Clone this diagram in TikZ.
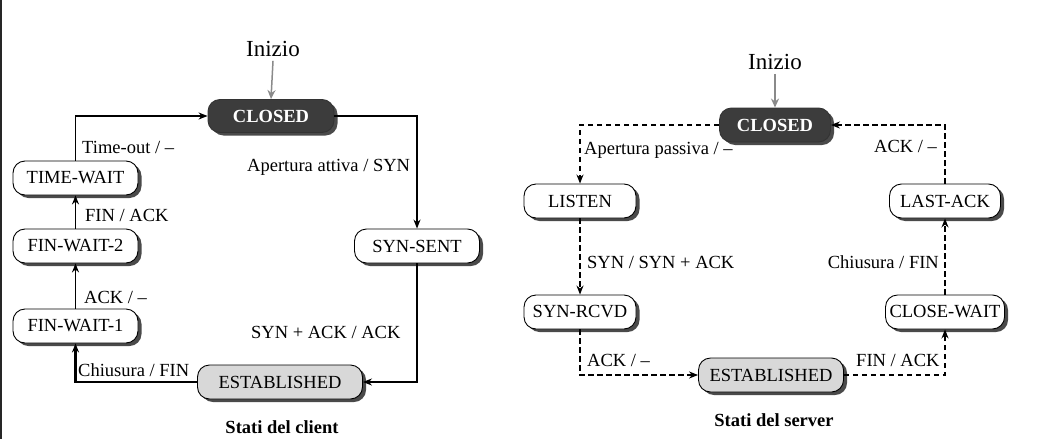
\documentclass[tikz,border=0pt]{standalone}
\usepackage{fontspec}
\setmainfont{Liberation Serif}
\usetikzlibrary{arrows.meta,shadows}

\definecolor{closedfill}{HTML}{3C3C3C}
\definecolor{estfill}{HTML}{D8D8D8}
\definecolor{shadowcol}{HTML}{4A4A4A}
\definecolor{startgray}{HTML}{8A8A8A}

\tikzset{
  txt/.style={font=\fontsize{18.5}{20}\selectfont},
  stbox/.style={txt, draw=black, line width=0.9pt, rounded corners=12pt,
    minimum height=34pt, inner xsep=0pt, inner ysep=0pt, fill=white,
    general shadow={fill=shadowcol, shadow xshift=3.5pt, shadow yshift=-3pt}},
  closedbox/.style={stbox, fill=closedfill, draw=black!80, text=white,
    font=\fontsize{18.5}{20}\selectfont\bfseries},
  estbox/.style={stbox, fill=estfill},
  lbl/.style={txt, inner sep=0pt},
  title/.style={font=\fontsize{18.5}{20}\selectfont\bfseries, inner sep=0pt},
  startlbl/.style={font=\fontsize{23}{25}\selectfont, inner sep=0pt},
  startarrow/.style={draw=startgray, line width=1.5pt,
    -{Stealth[length=9pt,width=8pt]}},
  tr/.style={draw=black, line width=1.2pt, -{Stealth[length=9pt,width=7pt]}},
  trthick/.style={tr, line width=2.6pt},
  trdash/.style={tr, dash pattern=on 5.5pt off 3.5pt}
}

\begin{document}
\begin{tikzpicture}[x=1pt, y=-1pt]
  \useasboundingbox (0,0) rectangle (1056,439);
  \draw[line width=1.6pt, black!85] (0.8,0) -- (0.8,439);

  % ---------- client side ----------
  \node[startlbl] (cstart) at (273,49) {Inizio};
  \node[closedbox, minimum width=126pt, minimum height=33pt] (cclosed) at (271,116) {CLOSED};
  \node[stbox, minimum width=125pt] (ctw)  at (75.5,178) {TIME-WAIT};
  \node[stbox, minimum width=125pt] (cfw2) at (75.5,246) {FIN-WAIT-2};
  \node[stbox, minimum width=125pt] (cfw1) at (75.5,326) {FIN-WAIT-1};
  \node[stbox, minimum width=125pt] (css)  at (417,246) {SYN-SENT};
  \node[estbox, minimum width=165pt] (cest) at (280,382) {ESTABLISHED};

  \draw[startarrow] (cstart.south) ++(0,4) -- (cclosed.north);
  \draw[tr] (ctw.north) |- (cclosed.west);
  \draw[tr] (cclosed.east) -| (css.north);
  \draw[tr] (css.south) |- (cest.east);
  \draw[trthick] (cest.west) -| (cfw1.south);
  \draw[tr] (cfw1.north) -- (cfw2.south);
  \draw[tr] (cfw2.north) -- (ctw.south);

  \node[lbl, anchor=west] (lto)   at (82,147)  {Time-out / –};
  \node[lbl, anchor=west] (lact)  at (247,167) {Apertura attiva / SYN};
  \node[lbl, anchor=west] (lfin)  at (85,215)  {FIN / ACK};
  \node[lbl, anchor=west] (lack)  at (84,297)  {ACK / –};
  \node[lbl, anchor=west] (lchc)  at (78,370)  {Chiusura / FIN};
  \node[lbl, anchor=west] (lsyn)  at (251,332) {SYN + ACK / ACK};
  \node[title] (tclient) at (282,427) {Stati del client};

  % ---------- server side ----------
  \node[startlbl] (sstart) at (775,62) {Inizio};
  \node[closedbox, minimum width=111pt] (sclosed) at (775,125) {CLOSED};
  \node[stbox, minimum width=112pt] (slisten) at (580,201) {LISTEN};
  \node[stbox, minimum width=111pt] (slack)   at (945,201) {LAST-ACK};
  \node[stbox, minimum width=112pt] (srcvd)   at (580,312) {SYN-RCVD};
  \node[stbox, minimum width=119pt] (scw)     at (945,312) {CLOSE-WAIT};
  \node[estbox, minimum width=145pt] (sest)   at (771,375) {ESTABLISHED};

  \draw[startarrow] (sstart.south) ++(0,4) -- (sclosed.north);
  \draw[trdash] (sclosed.west) -| (slisten.north);
  \draw[trdash] (slisten.south) -- (srcvd.north);
  \draw[trdash] (srcvd.south) |- (sest.west);
  \draw[trdash] (sest.east) -| (scw.south);
  \draw[trdash] (scw.north) -- (slack.south);
  \draw[trdash] (slack.north) |- (sclosed.east);

  \node[lbl, anchor=west] (lpas)  at (584,150) {Apertura passiva / –};
  \node[lbl, anchor=west] (lack2) at (874,146) {ACK / –};
  \node[lbl, anchor=west] (lsyn2) at (587,262) {SYN / SYN + ACK};
  \node[lbl, anchor=east] (lchs)  at (939,262) {Chiusura / FIN};
  \node[lbl, anchor=west] (lack3) at (587,360) {ACK / –};
  \node[lbl, anchor=west] (lfin2) at (856,360) {FIN / ACK};
  \node[title] (tserver) at (774,420) {Stati del server};
\end{tikzpicture}
\end{document}
